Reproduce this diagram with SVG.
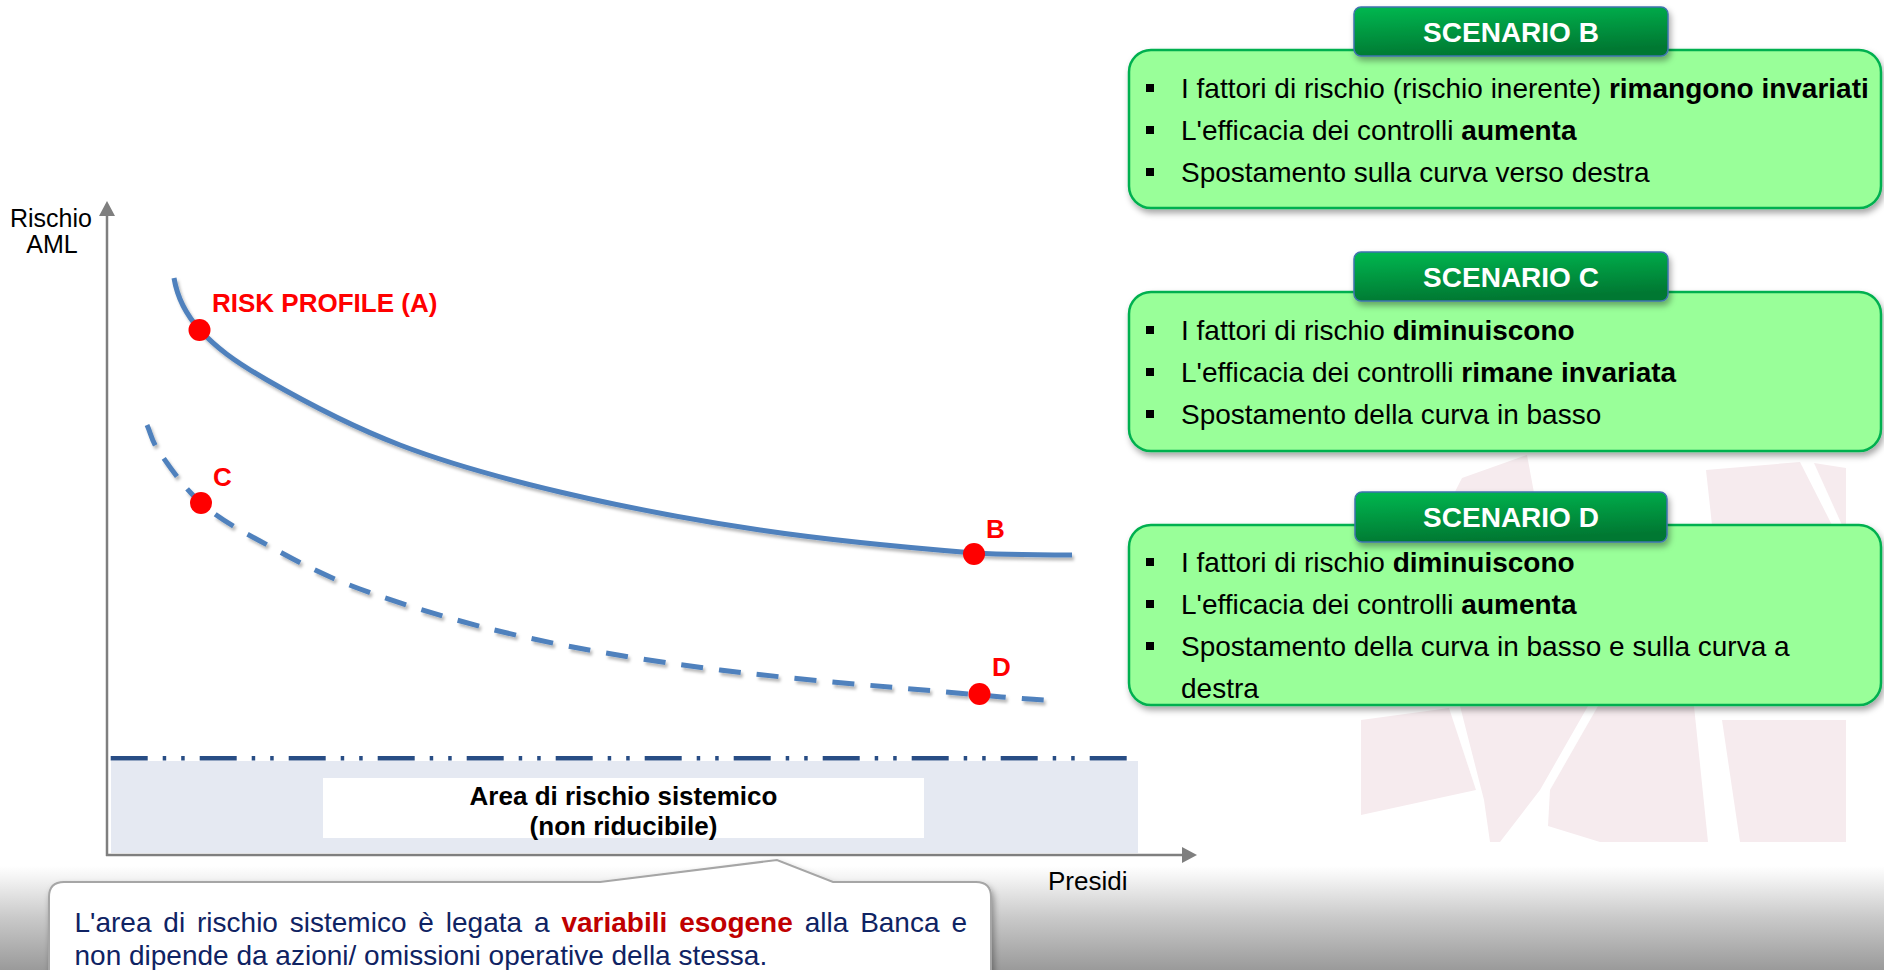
<svg xmlns="http://www.w3.org/2000/svg" width="1884" height="970" viewBox="0 0 1884 970">
  <defs>
    <style>
      text { font-family: "Liberation Sans", Arial, sans-serif; }
      .body { font-size: 28px; fill: #000; }
      .b { font-weight: bold; }
      .hdr-t { font-size: 28px; font-weight: bold; fill: #FFFFFF; text-anchor: middle; }
      .card { fill: #99FF99; stroke: #00B050; stroke-width: 2.5; }
      .hdr { fill: url(#hdrGrad); stroke: #3F73AE; stroke-width: 1.5; }
      .bullet { fill: #000; }
      .axis { stroke: #7F7F7F; stroke-width: 2.5; fill: none; }
      .axis-label { font-size: 25px; fill: #000; }
      .curve { fill: none; stroke: #4F81BD; stroke-width: 5; }
      .dashed { stroke-dasharray: 22 16; }
      .pt { fill: #FF0000; }
      .pt-label { font-size: 26px; font-weight: bold; fill: #FF0000; }
      .wm { fill: #F6EBEE; }
      .callout-t { font-size: 28px; fill: #0F2363; }
      .esog { fill: #C00000; font-weight: bold; }
      .area-t { font-size: 26px; font-weight: bold; fill: #000; text-anchor: middle; }
    </style>
    <linearGradient id="hdrGrad" x1="0" y1="0" x2="0.25" y2="1">
      <stop offset="0" stop-color="#00B850"/>
      <stop offset="1" stop-color="#007832"/>
    </linearGradient>
    <linearGradient id="floorGrad" x1="0" y1="0" x2="0" y2="1">
      <stop offset="0" stop-color="#FFFFFF"/>
      <stop offset="0.12" stop-color="#F3F3F3"/>
      <stop offset="0.5" stop-color="#C9C9C9"/>
      <stop offset="1" stop-color="#9A9A9A"/>
    </linearGradient>
    <filter id="boxShadow" x="-5%" y="-10%" width="115%" height="135%">
      <feDropShadow dx="2" dy="4" stdDeviation="3" flood-color="#000" flood-opacity="0.35"/>
    </filter>
    <filter id="lineShadow" x="-5%" y="-10%" width="115%" height="130%">
      <feDropShadow dx="2" dy="3" stdDeviation="1.5" flood-color="#000" flood-opacity="0.28"/>
    </filter>
    <marker id="arrow" markerUnits="userSpaceOnUse" markerWidth="16" markerHeight="16" refX="0" refY="8" orient="auto">
      <path d="M0,0 L15,8 L0,16 Z" fill="#7F7F7F"/>
    </marker>
  </defs>

  <!-- background -->
  <rect x="0" y="0" width="1884" height="970" fill="#FFFFFF"/>
  <rect x="0" y="866" width="1884" height="104" fill="url(#floorGrad)"/>

  <!-- faint logo watermark -->
  <g id="watermark">
    <polygon class="wm" points="1438,525 1462,478 1527,455 1540,525"/>
    <polygon class="wm" points="1706,470 1800,462 1832,525 1712,525"/>
    <polygon class="wm" points="1814,463 1846,468 1846,525 1842,525"/>
    <polygon class="wm" points="1361,720 1449,708 1476,790 1361,815"/>
    <polygon class="wm" points="1460,706 1588,706 1540,790 1500,842 1490,842 1484,800"/>
    <polygon class="wm" points="1598,706 1694,706 1708,842 1600,842 1548,826 1550,790"/>
    <polygon class="wm" points="1722,720 1846,720 1846,842 1740,842"/>
  </g>

  <!-- chart axes -->
  <g id="axes">
    <line class="axis" x1="107" y1="856" x2="107" y2="216" marker-end="url(#arrow)"/>
    <line class="axis" x1="106" y1="855" x2="1182" y2="855" marker-end="url(#arrow)"/>
    <text class="axis-label" x="51" y="227" text-anchor="middle">Rischio</text>
    <text class="axis-label" x="52" y="253" text-anchor="middle">AML</text>
    <text class="axis-label" x="1048" y="890" style="font-size:26px">Presidi</text>
  </g>

  <!-- systemic risk band -->
  <g id="systemic-area">
    <rect x="111" y="761" width="1027" height="92" fill="#E5E9F2"/>
    <line x1="110.7" y1="758.3" x2="1138" y2="758.3" stroke="#284D85" stroke-width="4.5" stroke-dasharray="37 15 3.5 15 3.5 15"/>
    <rect x="323" y="778" width="601" height="60" fill="#FFFFFF"/>
    <text class="area-t" x="623.5" y="805">Area di rischio sistemico</text>
    <text class="area-t" x="623.5" y="835">(non riducibile)</text>
  </g>

  <!-- risk curves -->
  <g id="connectors" filter="url(#lineShadow)">
    <path id="curve-a" class="curve" d="M174,278 C177,296 184.5,313 200,330 C215.5,347 233.7,360.8 267,380 C300.3,399.2 351.2,426.3 400,445 C448.8,463.7 500,477.8 560,492 C620,506.2 691,519.8 760,530 C829,540.2 922,548.8 974,553 C1010,555 1045,555 1072,555"/>
    <path id="curve-c" class="curve dashed" d="M147,425 C151.3,434.3 151,440 160,453 C169,466 184.3,488.3 201,503 C217.7,517.7 233.5,526.7 260,541 C286.5,555.3 316.7,573.2 360,589 C403.3,604.8 460,622.5 520,636 C580,649.5 643.3,660.2 720,670 C796.7,679.8 925.7,690 980,695 C1002,697 1025,699 1046,700"/>
  </g>

  <!-- risk points -->
  <g id="point-a">
    <circle class="pt" cx="199.5" cy="330" r="11"/>
    <text class="pt-label" x="212" y="312">RISK PROFILE (A)</text>
  </g>
  <g id="point-b">
    <circle class="pt" cx="974" cy="554" r="11"/>
    <text class="pt-label" x="986" y="538">B</text>
  </g>
  <g id="point-c">
    <circle class="pt" cx="201" cy="503" r="11"/>
    <text class="pt-label" x="213" y="486">C</text>
  </g>
  <g id="point-d">
    <circle class="pt" cx="979.5" cy="694" r="11"/>
    <text class="pt-label" x="992" y="676">D</text>
  </g>

  <!-- scenario B -->
  <g id="scenario-b">
    <rect class="card" x="1129" y="50" width="752" height="158" rx="22" filter="url(#boxShadow)"/>
    <rect class="hdr" x="1354" y="7" width="314" height="49" rx="7" filter="url(#boxShadow)"/>
    <text class="hdr-t" x="1511" y="42">SCENARIO B</text>
    <rect class="bullet" x="1146" y="84" width="8" height="8"/>
    <rect class="bullet" x="1146" y="126" width="8" height="8"/>
    <rect class="bullet" x="1146" y="168" width="8" height="8"/>
    <text class="body" x="1181" y="98"><tspan>I fattori di rischio (rischio inerente) </tspan><tspan class="b">rimangono invariati</tspan></text>
    <text class="body" x="1181" y="140"><tspan>L'efficacia dei controlli </tspan><tspan class="b">aumenta</tspan></text>
    <text class="body" x="1181" y="182">Spostamento sulla curva verso destra</text>
  </g>

  <!-- scenario C -->
  <g id="scenario-c">
    <rect class="card" x="1129" y="292" width="752" height="159" rx="22" filter="url(#boxShadow)"/>
    <rect class="hdr" x="1354" y="252" width="314" height="49" rx="7" filter="url(#boxShadow)"/>
    <text class="hdr-t" x="1511" y="287">SCENARIO C</text>
    <rect class="bullet" x="1146" y="326" width="8" height="8"/>
    <rect class="bullet" x="1146" y="368" width="8" height="8"/>
    <rect class="bullet" x="1146" y="410" width="8" height="8"/>
    <text class="body" x="1181" y="340"><tspan>I fattori di rischio </tspan><tspan class="b">diminuiscono</tspan></text>
    <text class="body" x="1181" y="382"><tspan>L'efficacia dei controlli </tspan><tspan class="b">rimane invariata</tspan></text>
    <text class="body" x="1181" y="424">Spostamento della curva in basso</text>
  </g>

  <!-- scenario D -->
  <g id="scenario-d">
    <rect class="card" x="1129" y="525" width="752" height="180" rx="22" filter="url(#boxShadow)"/>
    <rect class="hdr" x="1355" y="492" width="312" height="50" rx="7" filter="url(#boxShadow)"/>
    <text class="hdr-t" x="1511" y="527">SCENARIO D</text>
    <rect class="bullet" x="1146" y="558" width="8" height="8"/>
    <rect class="bullet" x="1146" y="600" width="8" height="8"/>
    <rect class="bullet" x="1146" y="642" width="8" height="8"/>
    <text class="body" x="1181" y="572"><tspan>I fattori di rischio </tspan><tspan class="b">diminuiscono</tspan></text>
    <text class="body" x="1181" y="614"><tspan>L'efficacia dei controlli </tspan><tspan class="b">aumenta</tspan></text>
    <text class="body" x="1181" y="656">Spostamento della curva in basso e sulla curva a</text>
    <text class="body" x="1181" y="698">destra</text>
  </g>

  <!-- callout on the systemic area -->
  <g id="callout">
    <path d="M64,882 H600 L777,860 L833,882 H976 Q991,882 991,897 V990 H49 V897 Q49,882 64,882 Z" fill="#FFFFFF" stroke="#A6A6A6" stroke-width="2" filter="url(#boxShadow)"/>
    <text class="callout-t" x="74.5" y="932" style="word-spacing:4.1px"><tspan>L'area di rischio sistemico è legata a </tspan><tspan class="esog">variabili esogene</tspan><tspan> alla Banca e</tspan></text>
    <text class="callout-t" x="74.5" y="965">non dipende da azioni/ omissioni operative della stessa.</text>
  </g>
</svg>
